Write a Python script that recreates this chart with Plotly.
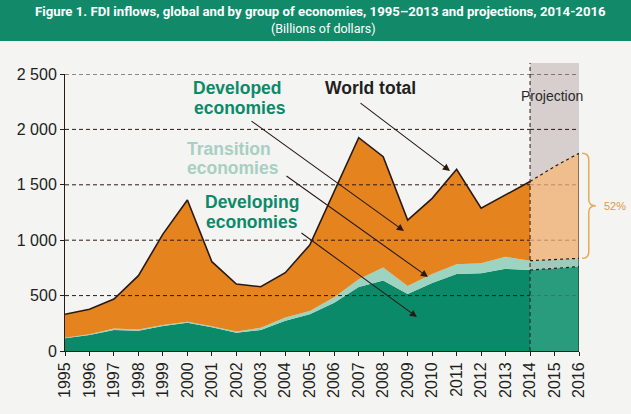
import plotly.graph_objects as go

# ---------------- data (billions of dollars) ----------------
hist_years = list(range(1995, 2014))          # 1995..2013
proj_years = [2014, 2015, 2016]

developing_hist = [114, 144, 190, 183, 226, 256, 214, 165, 190, 274,
                   331, 435, 578, 636, 514, 614, 695, 701, 742]
transition_hist = [5, 7, 13, 11, 8, 7, 9, 11, 20, 28,
                   31, 50, 69, 118, 73, 82, 87, 90, 108]
developed_hist = [212, 225, 266, 486, 821, 1100, 583, 429, 370, 405,
                  595, 955, 1278, 1000, 595, 682, 858, 497, 560]

developing_proj = [731, 745, 761]
transition_proj = [84, 82, 75]
developed_proj = [715, 838, 949]

year_ticks = list(range(1995, 2017))
y_ticks = [0, 500, 1000, 1500, 2000, 2500]
y_ticktext = ["0", "500", "1 000", "1 500", "2 000", "2 500"]

title_text = "Figure 1. FDI inflows, global and by group of economies, 1995–2013 and projections, 2014-2016"
subtitle_text = "(Billions of dollars)"

# ---------------- styles ----------------
BG = "#F4F4F2"
ORANGE = "#E5841F"
GREEN = "#0B8A69"
MINT = "#9DD3C1"
ORANGE_P = "#F0BD8C"
GREEN_P = "#2A9C7E"
MINT_P = "#9CCBBC"
DARK = "#2A1A14"
GREYBOX = "#D6CFCD"
TITLE_GREEN = "#128A69"
FONT = "Liberation Sans, Arial, sans-serif"
TFONT = "Roboto, Liberation Sans, sans-serif"

# solid part runs to 2014 (first projection year)
sx = hist_years + proj_years[:1]
s_dev = developing_hist + developing_proj[:1]
s_tr = transition_hist + transition_proj[:1]
s_dv = developed_hist + developed_proj[:1]

fig = go.Figure()
fig.add_trace(go.Scatter(x=sx, y=s_dev, stackgroup="hist", mode="lines",
                         fillcolor=GREEN, line=dict(width=0, color=GREEN),
                         name="Developing economies", hoverinfo="skip"))
fig.add_trace(go.Scatter(x=sx, y=s_tr, stackgroup="hist", mode="lines",
                         fillcolor=MINT, line=dict(width=0, color=MINT),
                         name="Transition economies", hoverinfo="skip"))
fig.add_trace(go.Scatter(x=sx, y=s_dv, stackgroup="hist", mode="lines",
                         fillcolor=ORANGE, line=dict(width=1.6, color=DARK),
                         name="Developed economies", hoverinfo="skip"))

fig.add_trace(go.Scatter(x=proj_years, y=developing_proj, stackgroup="proj", mode="lines",
                         fillcolor=GREEN_P, line=dict(width=1.2, color=DARK, dash="dot"),
                         hoverinfo="skip"))
fig.add_trace(go.Scatter(x=proj_years, y=transition_proj, stackgroup="proj", mode="lines",
                         fillcolor=MINT_P, line=dict(width=1.2, color=DARK, dash="dot"),
                         hoverinfo="skip"))
fig.add_trace(go.Scatter(x=proj_years, y=developed_proj, stackgroup="proj", mode="lines",
                         fillcolor=ORANGE_P, line=dict(width=1.2, color=DARK, dash="dot"),
                         hoverinfo="skip"))

proj_totals = [a + b + c for a, b, c in zip(developing_proj, transition_proj, developed_proj)]
proj_lower = [a + b for a, b in zip(developing_proj, transition_proj)]

shapes = []
# title banner
shapes.append(dict(type="rect", xref="paper", yref="paper", x0=-0.2, x1=1.2,
                   y0=1.119, y1=1.30, fillcolor=TITLE_GREEN, line=dict(width=0), layer="below"))
# projection box
shapes.append(dict(type="rect", xref="x", yref="paper", x0=proj_years[0], x1=proj_years[-1],
                   y0=0, y1=1.04, fillcolor=GREYBOX, line=dict(width=0), layer="below"))
# gridlines (drawn above the areas)
for v in y_ticks[1:]:
    shapes.append(dict(type="line", xref="x", yref="y", x0=year_ticks[0], x1=proj_years[0],
                       y0=v, y1=v, line=dict(color=DARK, width=1, dash="4px,3px"), layer="above"))
    col = "rgba(90,50,30,0.35)" if v < min(proj_totals) else DARK
    shapes.append(dict(type="line", xref="x", yref="y", x0=proj_years[0], x1=proj_years[-1],
                       y0=v, y1=v, line=dict(color=col, width=1, dash="4px,3px"), layer="above"))
# 2014 dashed divider and 2016 edge
shapes.append(dict(type="line", xref="x", yref="paper", x0=proj_years[0], x1=proj_years[0],
                   y0=0, y1=1.04, line=dict(color=DARK, width=1, dash="4px,3px"), layer="above"))
shapes.append(dict(type="line", xref="x", yref="y", x0=proj_years[-1], x1=proj_years[-1],
                   y0=0, y1=proj_totals[-1], line=dict(color=DARK, width=1), layer="above"))

# brace for the 52% developed share
top, bot = proj_totals[-1], proj_lower[-1]
mid = (top + bot) / 2
r = 60
bx0, bx1, bx2 = 1.006, 1.019, 1.033
path = (f"M {bx0},{top} Q {bx1},{top} {bx1},{top - r} L {bx1},{mid + r} "
        f"Q {bx1},{mid} {bx2},{mid} Q {bx1},{mid} {bx1},{mid - r} "
        f"L {bx1},{bot + r} Q {bx1},{bot} {bx0},{bot}")
shapes.append(dict(type="path", xref="paper", yref="y", path=path,
                   line=dict(color="#E8A85A", width=1.5)))

annotations = [
    dict(text=f"<b>{title_text}</b>", xref="paper", yref="paper", x=0.497, y=1.227,
         xanchor="center", yanchor="middle",
         showarrow=False, font=dict(family=TFONT, size=13.2, color="white")),
    dict(text=subtitle_text, xref="paper", yref="paper", x=0.501, y=1.1625,
         xanchor="center", yanchor="middle",
         showarrow=False, font=dict(family=TFONT, size=12.5, color="white")),
    dict(text="Projection", xref="x", yref="y", x=2014.88, y=2301, showarrow=False,
         xanchor="center", yanchor="middle",
         font=dict(family=FONT, size=14, color="#2A2A2A")),
    dict(text="52%", xref="paper", yref="y", x=1.045, y=mid, showarrow=False,
         xanchor="left", yanchor="middle",
         font=dict(family=FONT, size=11, color="#E09A45")),
]

labels = [
    ("Developed", 2000.14, 2374, GREEN), ("economies", 2000.18, 2196, GREEN),
    ("World total", 2005.55, 2374, "#231F20"),
    ("Transition", 1999.90, 1826, "#A9CFC2"), ("economies", 1999.90, 1648, "#A9CFC2"),
    ("Developing", 2000.65, 1343, GREEN), ("economies", 2000.68, 1165, GREEN),
]
for t, x, y, c in labels:
    annotations.append(dict(text=f"<b>{t}</b>", x=x, y=y, xref="x", yref="y",
                            xanchor="left", yanchor="middle", showarrow=False,
                            font=dict(family=FONT, size=17.5, color=c)))

# arrows: head (data coords), tail offset in pixels
arrows = [
    (2008.85, 1083, -154, -111),
    (2010.73, 1625, -91, -69),
    (2009.83, 668, -143, -102),
    (2009.38, 307, -117, -85),
]
for x, y, ax, ay in arrows:
    annotations.append(dict(text="", x=x, y=y, xref="x", yref="y", ax=ax, ay=ay,
                            showarrow=True, arrowhead=2, arrowsize=1.3, arrowwidth=1.1,
                            arrowcolor=DARK))

fig.update_layout(
    width=631, height=414,
    margin=dict(l=65, r=52, t=74, b=63, pad=0),
    paper_bgcolor=BG, plot_bgcolor=BG,
    showlegend=False,
    shapes=shapes, annotations=annotations,
    font=dict(family=FONT, color="#231F20"),
    xaxis=dict(range=[year_ticks[0], year_ticks[-1]], tickvals=year_ticks,
               ticktext=[str(y) for y in year_ticks], tickangle=-90,
               showline=True, linecolor=DARK, linewidth=1, ticks="outside",
               ticklen=4, tickcolor=DARK, showgrid=False, zeroline=False,
               automargin=False, tickfont=dict(size=16, color="#231F20")),
    yaxis=dict(range=[0, 2500], tickvals=y_ticks, ticktext=y_ticktext,
               showline=True, linecolor=DARK, linewidth=1, ticks="outside",
               ticklen=4, tickcolor=DARK, showgrid=False, zeroline=False,
               automargin=False, tickfont=dict(size=16, color="#231F20")),
)

fig.write_html("out.html", config={"displayModeBar": False},
               post_script="document.body.style.margin='0';document.body.style.overflow='hidden';")
